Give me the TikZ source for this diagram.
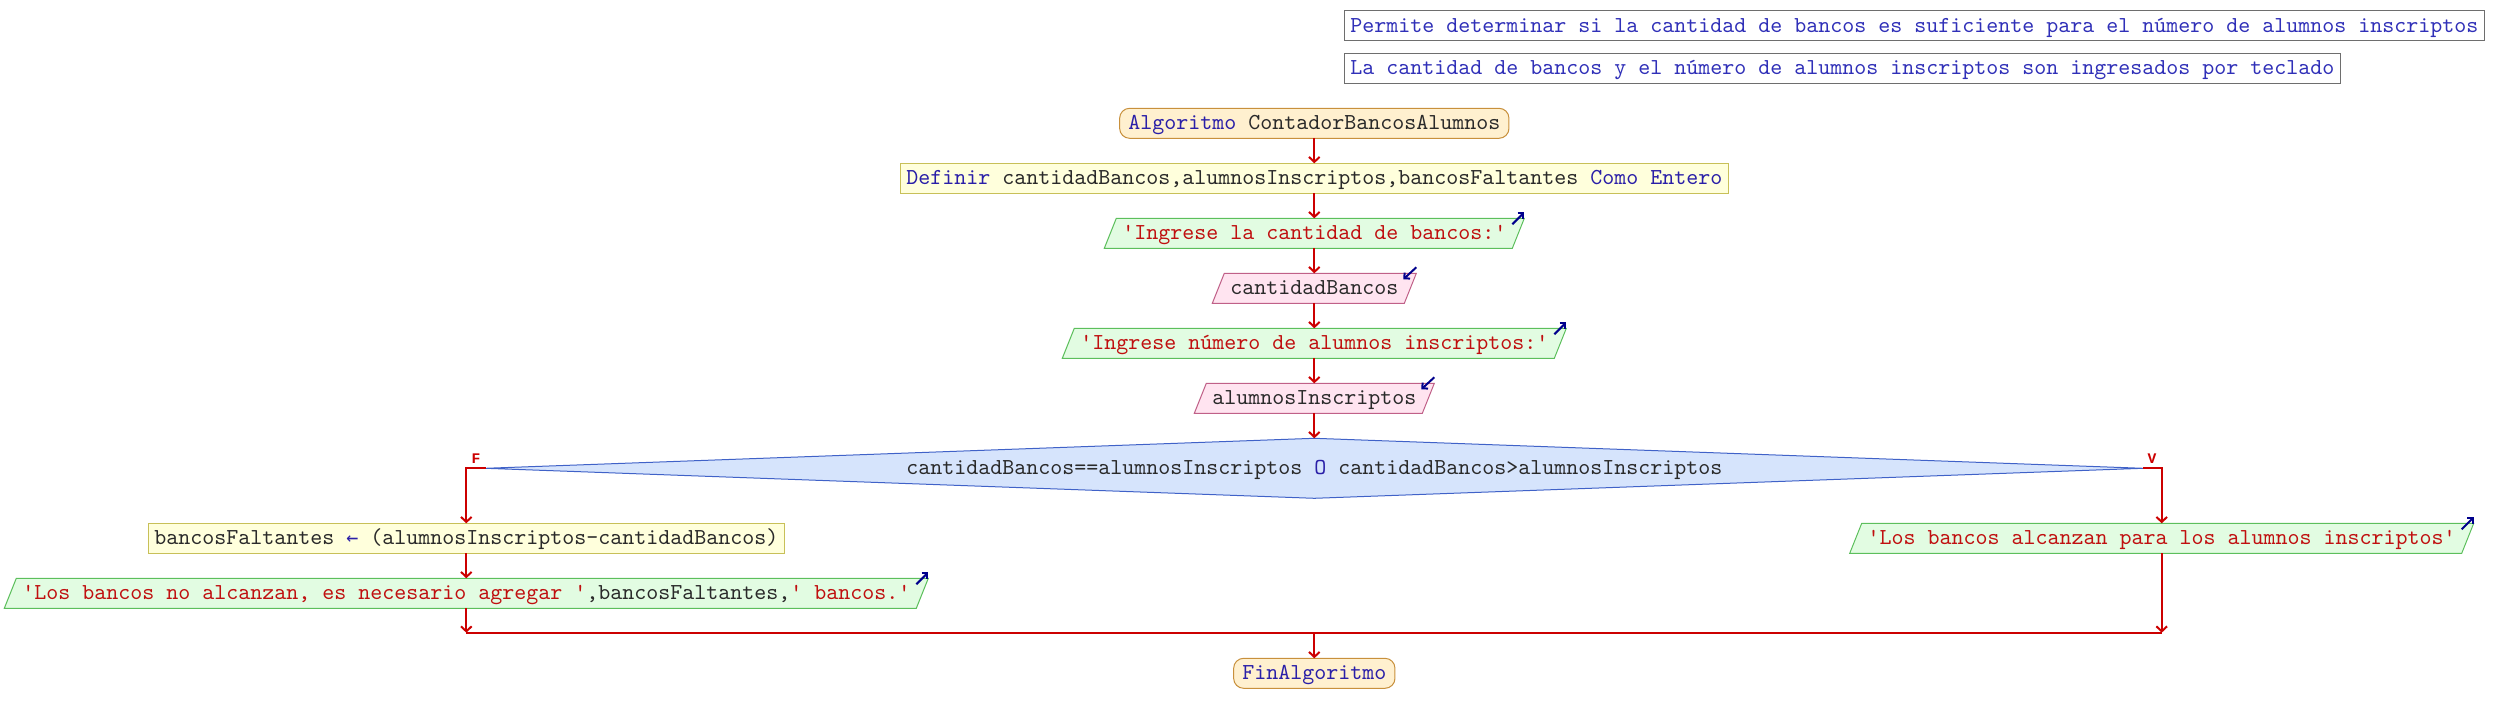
\documentclass[tikz,border=0pt]{standalone}
\usepackage{fontspec}
\newfontfamily\mono{lmmono10-regular.otf}[Ligatures=TeXOff]
\newfontfamily\lblfont{Liberation Mono}
\newfontfamily\arrfont{DejaVu Sans Mono}
\usetikzlibrary{arrows.meta,calc,backgrounds,shapes.geometric}
\definecolor{cmtbd}{HTML}{6E6E6E}
\definecolor{cmttx}{HTML}{3030B8}
\definecolor{kw}{HTML}{2A1FA8}
\definecolor{idt}{HTML}{2A2A2A}
\definecolor{strc}{HTML}{C01010}
\definecolor{termfill}{HTML}{FFF0CF}
\definecolor{termbd}{HTML}{C8903C}
\definecolor{procfill}{HTML}{FFFFDC}
\definecolor{procbd}{HTML}{C8C058}
\definecolor{outfill}{HTML}{E2FCE2}
\definecolor{outbd}{HTML}{5CBF5C}
\definecolor{infill}{HTML}{FFE4F0}
\definecolor{inbd}{HTML}{C06088}
\definecolor{decfill}{HTML}{D6E4FC}
\definecolor{decbd}{HTML}{4062C8}
\definecolor{flowred}{HTML}{CC0000}
\definecolor{iconc}{HTML}{00008C}
\begin{document}
\begin{tikzpicture}[x=0.75pt,y=-0.75pt,
  font=\mono\fontsize{17.143pt}{20pt}\selectfont,
  txt/.style={text height=12pt,text depth=2pt,inner ysep=0pt,minimum height=22.5pt,outer sep=0pt},
  comment/.style={txt,draw=cmtbd,fill=white,text=cmttx,inner xsep=4.5pt,line width=0.75pt,anchor=west},
  term/.style={txt,draw=termbd,fill=termfill,text=idt,rounded corners=7.5pt,inner xsep=6.5pt,line width=0.75pt},
  proc/.style={txt,draw=procbd,fill=procfill,text=idt,inner xsep=4.5pt,line width=0.75pt},
  io/.style={txt,text=strc,inner xsep=4.5pt},
  dec/.style={diamond,draw=decbd,fill=decfill,text=idt,line width=0.75pt,inner sep=0pt,outer sep=0pt,
    text height=12pt,text depth=2pt,aspect=27.6,minimum width=1243pt,minimum height=45pt},
  lbl/.style={font=\lblfont\bfseries\fontsize{11pt}{12pt}\selectfont,text=flowred,inner sep=0pt},
  flow/.style={draw=flowred,line width=1.5pt,-{Straight Barb[length=3.75pt,width=8pt]}},
  plainflow/.style={draw=flowred,line width=1.5pt},
  icn/.style={draw=iconc,line width=1.5pt,-{Straight Barb[length=3pt,width=6pt]}},
  outshape/.style={fill=outfill,draw=outbd,line width=0.75pt},
  inshape/.style={fill=infill,draw=inbd,line width=0.75pt}
]
\useasboundingbox (0,0) rectangle (2494,723);

% comments
\node[comment] (c1) at (1344.3,25.5) {Permite determinar si la cantidad de bancos es suficiente para el número de alumnos inscriptos};
\node[comment] (c2) at (1344.3,68.3) {La cantidad de bancos y el número de alumnos inscriptos son ingresados por teclado};

% main column
\node[term] (start) at (1314.3,123.3) {{\color{kw}Algoritmo} ContadorBancosAlumnos};
\node[proc] (def) at (1314.3,178.3) {{\color{kw}Definir} cantidadBancos,alumnosInscriptos,bancosFaltantes {\color{kw}Como Entero}};
\node[io] (out1) at (1314.3,233.3) {'Ingrese la cantidad de bancos:'};
\node[io,text=idt] (in1) at (1314.3,288.3) {cantidadBancos};
\node[io] (out2) at (1314.3,343.3) {'Ingrese número de alumnos inscriptos:'};
\node[io,text=idt] (in2) at (1314.3,398.3) {alumnosInscriptos};
\node[dec] (dec) at (1314.3,468.3) {cantidadBancos==alumnosInscriptos {\color{kw}O} cantidadBancos>alumnosInscriptos};

% branches
\node[proc] (assign) at (466.3,538.3) {bancosFaltantes {\color{kw}\arrfont\fontsize{15pt}{18pt}\selectfont ←} (alumnosInscriptos-cantidadBancos)};
\node[io] (out3) at (466.3,593.3) {'Los bancos no alcanzan, es necesario agregar '{\color{idt},bancosFaltantes,}' bancos.'};
\node[io] (out4) at (2161.7,538.3) {'Los bancos alcanzan para los alumnos inscriptos'};
\node[term,text=kw] (end) at (1314.3,673.3) {FinAlgoritmo};

\node[lbl] (lf) at (476,458.7) {F};
\node[lbl] (lv) at (2152,458.7) {V};

\coordinate (jl) at (466.3,632.7);
\coordinate (jr) at (2161.7,632.7);
\coordinate (jc) at (1314.3,632.7);

% parallelogram bodies
\begin{scope}[on background layer]
\foreach \n/\s in {out1/outshape,in1/inshape,out2/outshape,in2/inshape,out3/outshape,out4/outshape}{
  \path[\s] (\n.north west) -- ($(\n.north east)+(12,0)$) -- (\n.south east) -- ($(\n.south west)+(-12,0)$) -- cycle;
}
\end{scope}

% icons
\foreach \n in {out1,out2,out3,out4}{
  \draw[icn] ($(\n.north east)+(0,6)$) -- ($(\n.north east)+(12,-6)$);
}
\foreach \n in {in1,in2}{
  \draw[icn] ($(\n.north east)+(12,-6)$) -- ($(\n.north east)+(-1,6)$);
}

% connectors
\draw[flow] (start.south) -- (def.north);
\draw[flow] (def.south) -- (out1.north);
\draw[flow] (out1.south) -- (in1.north);
\draw[flow] (in1.south) -- (out2.north);
\draw[flow] (out2.south) -- (in2.north);
\draw[flow] (in2.south) -- (dec.north);
\draw[flow] (dec.west) -| (assign.north);
\draw[flow] (assign.south) -- (out3.north);
\draw[flow] (out3.south) -- (jl);
\draw[flow] (dec.east) -| (out4.north);
\draw[flow] (out4.south) -- (jr);
\draw[plainflow] (jl) -- (jr);
\draw[flow] (jc) -- (end.north);
\end{tikzpicture}
\end{document}
